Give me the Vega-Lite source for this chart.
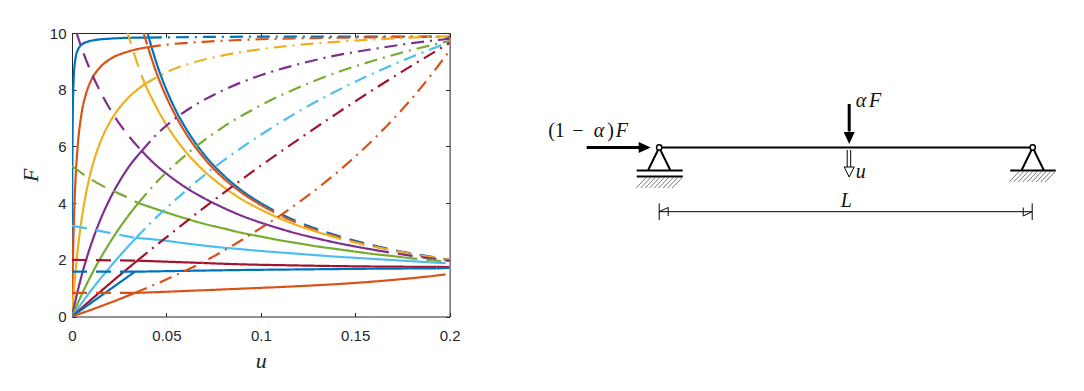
{"$schema":"https://vega.github.io/schema/vega-lite/v6.json","padding":{"left":19,"top":26,"right":0,"bottom":0},"spacing":59.7,"background":"white","config":{"view":{"stroke":null}},
"datasets":{
"curves":[
{"c":"1","s":"solid","p":"1r","u":0,"F":0},{"c":"1","s":"solid","p":"1r","u":0.00005,"F":2.37},{"c":"1","s":"solid","p":"1r","u":0.0001,"F":3.83},{"c":"1","s":"solid","p":"1r","u":0.0002,"F":5.52},{"c":"1","s":"solid","p":"1r","u":0.0004,"F":7.08},{"c":"1","s":"solid","p":"1r","u":0.0008,"F":8.25},{"c":"1","s":"solid","p":"1r","u":0.0015,"F":8.94},{"c":"1","s":"solid","p":"1r","u":0.003,"F":9.39},{"c":"1","s":"solid","p":"1r","u":0.006,"F":9.63},{"c":"1","s":"solid","p":"1r","u":0.012,"F":9.75},{"c":"1","s":"solid","p":"1r","u":0.02,"F":9.8},{"c":"1","s":"solid","p":"1r","u":0.03,"F":9.83},{"c":"1","s":"solid","p":"1r","u":0.0407,"F":9.84},
{"c":"1","s":"dashdot","p":"1e","u":0.0407,"F":9.84},{"c":"1","s":"dashdot","p":"1e","u":0.07,"F":9.86},{"c":"1","s":"dashdot","p":"1e","u":0.1,"F":9.87},{"c":"1","s":"dashdot","p":"1e","u":0.15,"F":9.87},{"c":"1","s":"dashdot","p":"1e","u":0.2,"F":9.87},
{"c":"1","s":"dashed","p":"1a","u":0.039,"F":10.26},{"c":"1","s":"dashed","p":"1a","u":0.0407,"F":9.83},
{"c":"1","s":"solid","p":"1d","u":0.0407,"F":9.83},{"c":"1","s":"solid","p":"1d","u":0.045,"F":8.89},{"c":"1","s":"solid","p":"1d","u":0.05,"F":8},{"c":"1","s":"solid","p":"1d","u":0.055,"F":7.27},{"c":"1","s":"solid","p":"1d","u":0.06,"F":6.67},{"c":"1","s":"solid","p":"1d","u":0.07,"F":5.71},{"c":"1","s":"solid","p":"1d","u":0.08,"F":5},{"c":"1","s":"solid","p":"1d","u":0.09,"F":4.44},{"c":"1","s":"solid","p":"1d","u":0.1,"F":4},
{"c":"1","s":"dashed","p":"1b","u":0.1,"F":4},{"c":"1","s":"dashed","p":"1b","u":0.11,"F":3.64},{"c":"1","s":"dashed","p":"1b","u":0.12,"F":3.33},{"c":"1","s":"dashed","p":"1b","u":0.13,"F":3.08},{"c":"1","s":"dashed","p":"1b","u":0.14,"F":2.86},{"c":"1","s":"dashed","p":"1b","u":0.15,"F":2.67},{"c":"1","s":"dashed","p":"1b","u":0.16,"F":2.5},{"c":"1","s":"dashed","p":"1b","u":0.17,"F":2.35},{"c":"1","s":"dashed","p":"1b","u":0.18,"F":2.22},{"c":"1","s":"dashed","p":"1b","u":0.19,"F":2.11},{"c":"1","s":"dashed","p":"1b","u":0.2,"F":2},

{"c":"2","s":"solid","p":"2r","u":0,"F":0},{"c":"2","s":"solid","p":"2r","u":0.0003,"F":1.3},{"c":"2","s":"solid","p":"2r","u":0.0006,"F":2.31},{"c":"2","s":"solid","p":"2r","u":0.001,"F":3.33},{"c":"2","s":"solid","p":"2r","u":0.0017,"F":4.59},{"c":"2","s":"solid","p":"2r","u":0.003,"F":5.99},{"c":"2","s":"solid","p":"2r","u":0.005,"F":7.13},{"c":"2","s":"solid","p":"2r","u":0.0075,"F":7.87},{"c":"2","s":"solid","p":"2r","u":0.01,"F":8.31},{"c":"2","s":"solid","p":"2r","u":0.015,"F":8.8},{"c":"2","s":"solid","p":"2r","u":0.02,"F":9.07},{"c":"2","s":"solid","p":"2r","u":0.03,"F":9.35},{"c":"2","s":"solid","p":"2r","u":0.0402,"F":9.5},
{"c":"2","s":"dashdot","p":"2e","u":0.0402,"F":9.5},{"c":"2","s":"dashdot","p":"2e","u":0.05,"F":9.59},{"c":"2","s":"dashdot","p":"2e","u":0.07,"F":9.69},{"c":"2","s":"dashdot","p":"2e","u":0.1,"F":9.78},{"c":"2","s":"dashdot","p":"2e","u":0.15,"F":9.84},{"c":"2","s":"dashdot","p":"2e","u":0.2,"F":9.87},
{"c":"2","s":"dashed","p":"2a","u":0.0375,"F":10.1},{"c":"2","s":"dashed","p":"2a","u":0.0402,"F":9.5},
{"c":"2","s":"solid","p":"2d","u":0.0402,"F":9.5},{"c":"2","s":"solid","p":"2d","u":0.045,"F":8.55},{"c":"2","s":"solid","p":"2d","u":0.05,"F":7.74},{"c":"2","s":"solid","p":"2d","u":0.055,"F":7.07},{"c":"2","s":"solid","p":"2d","u":0.06,"F":6.49},{"c":"2","s":"solid","p":"2d","u":0.07,"F":5.58},{"c":"2","s":"solid","p":"2d","u":0.08,"F":4.89},{"c":"2","s":"solid","p":"2d","u":0.09,"F":4.36},{"c":"2","s":"solid","p":"2d","u":0.1,"F":3.93},
{"c":"2","s":"dashed","p":"2b","u":0.1,"F":3.93},{"c":"2","s":"dashed","p":"2b","u":0.11,"F":3.58},{"c":"2","s":"dashed","p":"2b","u":0.12,"F":3.28},{"c":"2","s":"dashed","p":"2b","u":0.13,"F":3.03},{"c":"2","s":"dashed","p":"2b","u":0.14,"F":2.82},{"c":"2","s":"dashed","p":"2b","u":0.15,"F":2.63},{"c":"2","s":"dashed","p":"2b","u":0.16,"F":2.47},{"c":"2","s":"dashed","p":"2b","u":0.17,"F":2.33},{"c":"2","s":"dashed","p":"2b","u":0.18,"F":2.2},{"c":"2","s":"dashed","p":"2b","u":0.19,"F":2.09},{"c":"2","s":"dashed","p":"2b","u":0.2,"F":1.98},

{"c":"3","s":"solid","p":"3r","u":0,"F":0},{"c":"3","s":"solid","p":"3r","u":0.001,"F":0.915},{"c":"3","s":"solid","p":"3r","u":0.002,"F":1.68},{"c":"3","s":"solid","p":"3r","u":0.004,"F":2.9},{"c":"3","s":"solid","p":"3r","u":0.006,"F":3.81},{"c":"3","s":"solid","p":"3r","u":0.009,"F":4.83},{"c":"3","s":"solid","p":"3r","u":0.012,"F":5.58},{"c":"3","s":"solid","p":"3r","u":0.016,"F":6.31},{"c":"3","s":"solid","p":"3r","u":0.02,"F":6.85},{"c":"3","s":"solid","p":"3r","u":0.025,"F":7.35},{"c":"3","s":"solid","p":"3r","u":0.03,"F":7.73},{"c":"3","s":"solid","p":"3r","u":0.0386,"F":8.2},
{"c":"3","s":"dashdot","p":"3e","u":0.0386,"F":8.2},{"c":"3","s":"dashdot","p":"3e","u":0.05,"F":8.62},{"c":"3","s":"dashdot","p":"3e","u":0.06,"F":8.87},{"c":"3","s":"dashdot","p":"3e","u":0.08,"F":9.21},{"c":"3","s":"dashdot","p":"3e","u":0.1,"F":9.43},{"c":"3","s":"dashdot","p":"3e","u":0.12,"F":9.58},{"c":"3","s":"dashdot","p":"3e","u":0.14,"F":9.69},{"c":"3","s":"dashdot","p":"3e","u":0.16,"F":9.77},{"c":"3","s":"dashdot","p":"3e","u":0.18,"F":9.84},{"c":"3","s":"dashdot","p":"3e","u":0.2,"F":9.89},
{"c":"3","s":"dashed","p":"3a","u":0.029,"F":10.13},{"c":"3","s":"dashed","p":"3a","u":0.033,"F":9.25},{"c":"3","s":"dashed","p":"3a","u":0.0386,"F":8.2},
{"c":"3","s":"solid","p":"3d","u":0.0386,"F":8.2},{"c":"3","s":"solid","p":"3d","u":0.045,"F":7.34},{"c":"3","s":"solid","p":"3d","u":0.05,"F":6.76},{"c":"3","s":"solid","p":"3d","u":0.06,"F":5.83},{"c":"3","s":"solid","p":"3d","u":0.07,"F":5.13},{"c":"3","s":"solid","p":"3d","u":0.08,"F":4.58},{"c":"3","s":"solid","p":"3d","u":0.09,"F":4.13},{"c":"3","s":"solid","p":"3d","u":0.1,"F":3.77},{"c":"3","s":"solid","p":"3d","u":0.11,"F":3.46},{"c":"3","s":"solid","p":"3d","u":0.12,"F":3.2},{"c":"3","s":"solid","p":"3d","u":0.13,"F":2.98},{"c":"3","s":"solid","p":"3d","u":0.135,"F":2.88},
{"c":"3","s":"dashed","p":"3b","u":0.135,"F":2.88},{"c":"3","s":"dashed","p":"3b","u":0.14,"F":2.78},{"c":"3","s":"dashed","p":"3b","u":0.15,"F":2.61},{"c":"3","s":"dashed","p":"3b","u":0.16,"F":2.46},{"c":"3","s":"dashed","p":"3b","u":0.17,"F":2.33},{"c":"3","s":"dashed","p":"3b","u":0.18,"F":2.2},{"c":"3","s":"dashed","p":"3b","u":0.19,"F":2.1},{"c":"3","s":"dashed","p":"3b","u":0.2,"F":2},

{"c":"4","s":"solid","p":"4r","u":0,"F":0},{"c":"4","s":"solid","p":"4r","u":0.002,"F":0.61},{"c":"4","s":"solid","p":"4r","u":0.004,"F":1.16},{"c":"4","s":"solid","p":"4r","u":0.007,"F":1.89},{"c":"4","s":"solid","p":"4r","u":0.01,"F":2.52},{"c":"4","s":"solid","p":"4r","u":0.015,"F":3.41},{"c":"4","s":"solid","p":"4r","u":0.02,"F":4.14},{"c":"4","s":"solid","p":"4r","u":0.025,"F":4.75},{"c":"4","s":"solid","p":"4r","u":0.03,"F":5.27},{"c":"4","s":"solid","p":"4r","u":0.0369,"F":5.84},
{"c":"4","s":"dashdot","p":"4e","u":0.0369,"F":5.84},{"c":"4","s":"dashdot","p":"4e","u":0.045,"F":6.43},{"c":"4","s":"dashdot","p":"4e","u":0.055,"F":7},{"c":"4","s":"dashdot","p":"4e","u":0.065,"F":7.45},{"c":"4","s":"dashdot","p":"4e","u":0.08,"F":7.98},{"c":"4","s":"dashdot","p":"4e","u":0.1,"F":8.51},{"c":"4","s":"dashdot","p":"4e","u":0.12,"F":8.9},{"c":"4","s":"dashdot","p":"4e","u":0.14,"F":9.21},{"c":"4","s":"dashdot","p":"4e","u":0.16,"F":9.44},{"c":"4","s":"dashdot","p":"4e","u":0.18,"F":9.64},{"c":"4","s":"dashdot","p":"4e","u":0.2,"F":9.8},
{"c":"4","s":"dashed","p":"4a","u":0.002,"F":10.09},{"c":"4","s":"dashed","p":"4a","u":0.005,"F":9.49},{"c":"4","s":"dashed","p":"4a","u":0.01,"F":8.64},{"c":"4","s":"dashed","p":"4a","u":0.015,"F":7.93},{"c":"4","s":"dashed","p":"4a","u":0.02,"F":7.33},{"c":"4","s":"dashed","p":"4a","u":0.025,"F":6.81},{"c":"4","s":"dashed","p":"4a","u":0.03,"F":6.37},{"c":"4","s":"dashed","p":"4a","u":0.0369,"F":5.84},
{"c":"4","s":"solid","p":"4d","u":0.0369,"F":5.84},{"c":"4","s":"solid","p":"4d","u":0.045,"F":5.31},{"c":"4","s":"solid","p":"4d","u":0.05,"F":5.04},{"c":"4","s":"solid","p":"4d","u":0.06,"F":4.56},{"c":"4","s":"solid","p":"4d","u":0.07,"F":4.17},{"c":"4","s":"solid","p":"4d","u":0.08,"F":3.84},{"c":"4","s":"solid","p":"4d","u":0.09,"F":3.55},{"c":"4","s":"solid","p":"4d","u":0.1,"F":3.31},{"c":"4","s":"solid","p":"4d","u":0.11,"F":3.1},{"c":"4","s":"solid","p":"4d","u":0.12,"F":2.91},{"c":"4","s":"solid","p":"4d","u":0.13,"F":2.75},{"c":"4","s":"solid","p":"4d","u":0.14,"F":2.6},{"c":"4","s":"solid","p":"4d","u":0.15,"F":2.47},{"c":"4","s":"solid","p":"4d","u":0.16,"F":2.35},
{"c":"4","s":"dashed","p":"4b","u":0.16,"F":2.35},{"c":"4","s":"dashed","p":"4b","u":0.17,"F":2.24},{"c":"4","s":"dashed","p":"4b","u":0.18,"F":2.14},{"c":"4","s":"dashed","p":"4b","u":0.19,"F":2.05},{"c":"4","s":"dashed","p":"4b","u":0.2,"F":1.96},

{"c":"5","s":"solid","p":"5r","u":0,"F":0},{"c":"5","s":"solid","p":"5r","u":0.004,"F":0.61},{"c":"5","s":"solid","p":"5r","u":0.008,"F":1.17},{"c":"5","s":"solid","p":"5r","u":0.012,"F":1.69},{"c":"5","s":"solid","p":"5r","u":0.016,"F":2.16},{"c":"5","s":"solid","p":"5r","u":0.02,"F":2.6},{"c":"5","s":"solid","p":"5r","u":0.025,"F":3.11},{"c":"5","s":"solid","p":"5r","u":0.03,"F":3.57},{"c":"5","s":"solid","p":"5r","u":0.0351,"F":4},
{"c":"5","s":"dashdot","p":"5e","u":0.0351,"F":4},{"c":"5","s":"dashdot","p":"5e","u":0.045,"F":4.75},{"c":"5","s":"dashdot","p":"5e","u":0.055,"F":5.39},{"c":"5","s":"dashdot","p":"5e","u":0.065,"F":5.96},{"c":"5","s":"dashdot","p":"5e","u":0.08,"F":6.68},{"c":"5","s":"dashdot","p":"5e","u":0.1,"F":7.45},{"c":"5","s":"dashdot","p":"5e","u":0.12,"F":8.08},{"c":"5","s":"dashdot","p":"5e","u":0.14,"F":8.6},{"c":"5","s":"dashdot","p":"5e","u":0.16,"F":9.03},{"c":"5","s":"dashdot","p":"5e","u":0.18,"F":9.4},{"c":"5","s":"dashdot","p":"5e","u":0.2,"F":9.72},
{"c":"5","s":"dashed","p":"5a","u":0,"F":5.3},{"c":"5","s":"dashed","p":"5a","u":0.01,"F":4.84},{"c":"5","s":"dashed","p":"5a","u":0.02,"F":4.48},{"c":"5","s":"dashed","p":"5a","u":0.03,"F":4.18},{"c":"5","s":"dashed","p":"5a","u":0.0351,"F":4},
{"c":"5","s":"solid","p":"5d","u":0.0351,"F":4},{"c":"5","s":"solid","p":"5d","u":0.045,"F":3.78},{"c":"5","s":"solid","p":"5d","u":0.05,"F":3.67},{"c":"5","s":"solid","p":"5d","u":0.06,"F":3.46},{"c":"5","s":"solid","p":"5d","u":0.07,"F":3.27},{"c":"5","s":"solid","p":"5d","u":0.08,"F":3.11},{"c":"5","s":"solid","p":"5d","u":0.09,"F":2.95},{"c":"5","s":"solid","p":"5d","u":0.1,"F":2.82},{"c":"5","s":"solid","p":"5d","u":0.11,"F":2.69},{"c":"5","s":"solid","p":"5d","u":0.12,"F":2.58},{"c":"5","s":"solid","p":"5d","u":0.13,"F":2.47},{"c":"5","s":"solid","p":"5d","u":0.14,"F":2.38},{"c":"5","s":"solid","p":"5d","u":0.15,"F":2.29},{"c":"5","s":"solid","p":"5d","u":0.16,"F":2.2},{"c":"5","s":"solid","p":"5d","u":0.17,"F":2.13},{"c":"5","s":"solid","p":"5d","u":0.175,"F":2.09},
{"c":"5","s":"dashed","p":"5b","u":0.175,"F":2.09},{"c":"5","s":"dashed","p":"5b","u":0.18,"F":2.05},{"c":"5","s":"dashed","p":"5b","u":0.19,"F":1.99},{"c":"5","s":"dashed","p":"5b","u":0.2,"F":1.92},

{"c":"6","s":"solid","p":"6r","u":0,"F":0},{"c":"6","s":"solid","p":"6r","u":0.005,"F":0.46},{"c":"6","s":"solid","p":"6r","u":0.01,"F":0.91},{"c":"6","s":"solid","p":"6r","u":0.015,"F":1.33},{"c":"6","s":"solid","p":"6r","u":0.02,"F":1.73},{"c":"6","s":"solid","p":"6r","u":0.025,"F":2.12},{"c":"6","s":"solid","p":"6r","u":0.03,"F":2.49},{"c":"6","s":"solid","p":"6r","u":0.0339,"F":2.77},
{"c":"6","s":"dashdot","p":"6e","u":0.0339,"F":2.77},{"c":"6","s":"dashdot","p":"6e","u":0.04,"F":3.19},{"c":"6","s":"dashdot","p":"6e","u":0.05,"F":3.83},{"c":"6","s":"dashdot","p":"6e","u":0.06,"F":4.42},{"c":"6","s":"dashdot","p":"6e","u":0.07,"F":4.98},{"c":"6","s":"dashdot","p":"6e","u":0.085,"F":5.73},{"c":"6","s":"dashdot","p":"6e","u":0.1,"F":6.41},{"c":"6","s":"dashdot","p":"6e","u":0.12,"F":7.23},{"c":"6","s":"dashdot","p":"6e","u":0.14,"F":7.95},{"c":"6","s":"dashdot","p":"6e","u":0.16,"F":8.59},{"c":"6","s":"dashdot","p":"6e","u":0.18,"F":9.16},{"c":"6","s":"dashdot","p":"6e","u":0.2,"F":9.68},
{"c":"6","s":"dashed","p":"6a","u":0,"F":3.2},{"c":"6","s":"dashed","p":"6a","u":0.01,"F":3.08},{"c":"6","s":"dashed","p":"6a","u":0.02,"F":2.95},{"c":"6","s":"dashed","p":"6a","u":0.03,"F":2.82},{"c":"6","s":"dashed","p":"6a","u":0.0339,"F":2.77},
{"c":"6","s":"solid","p":"6d","u":0.0339,"F":2.77},{"c":"6","s":"solid","p":"6d","u":0.045,"F":2.71},{"c":"6","s":"solid","p":"6d","u":0.06,"F":2.58},{"c":"6","s":"solid","p":"6d","u":0.07,"F":2.5},{"c":"6","s":"solid","p":"6d","u":0.08,"F":2.43},{"c":"6","s":"solid","p":"6d","u":0.09,"F":2.37},{"c":"6","s":"solid","p":"6d","u":0.1,"F":2.31},{"c":"6","s":"solid","p":"6d","u":0.11,"F":2.26},{"c":"6","s":"solid","p":"6d","u":0.12,"F":2.21},{"c":"6","s":"solid","p":"6d","u":0.13,"F":2.16},{"c":"6","s":"solid","p":"6d","u":0.14,"F":2.11},{"c":"6","s":"solid","p":"6d","u":0.15,"F":2.07},{"c":"6","s":"solid","p":"6d","u":0.16,"F":2.03},{"c":"6","s":"solid","p":"6d","u":0.17,"F":1.99},{"c":"6","s":"solid","p":"6d","u":0.18,"F":1.95},{"c":"6","s":"solid","p":"6d","u":0.19,"F":1.91},
{"c":"6","s":"dashed","p":"6b","u":0.19,"F":1.91},{"c":"6","s":"dashed","p":"6b","u":0.2,"F":1.88},

{"c":"7","s":"solid","p":"7r","u":0,"F":0},{"c":"7","s":"solid","p":"7r","u":0.01,"F":0.585},{"c":"7","s":"solid","p":"7r","u":0.02,"F":1.16},{"c":"7","s":"solid","p":"7r","u":0.03,"F":1.72},{"c":"7","s":"solid","p":"7r","u":0.0346,"F":1.97},
{"c":"7","s":"dashdot","p":"7e","u":0.0346,"F":1.97},{"c":"7","s":"dashdot","p":"7e","u":0.045,"F":2.53},{"c":"7","s":"dashdot","p":"7e","u":0.055,"F":3.06},{"c":"7","s":"dashdot","p":"7e","u":0.07,"F":3.84},{"c":"7","s":"dashdot","p":"7e","u":0.085,"F":4.59},{"c":"7","s":"dashdot","p":"7e","u":0.1,"F":5.32},{"c":"7","s":"dashdot","p":"7e","u":0.12,"F":6.25},{"c":"7","s":"dashdot","p":"7e","u":0.14,"F":7.15},{"c":"7","s":"dashdot","p":"7e","u":0.16,"F":8.02},{"c":"7","s":"dashdot","p":"7e","u":0.18,"F":8.85},{"c":"7","s":"dashdot","p":"7e","u":0.2,"F":9.65},
{"c":"7","s":"dashed","p":"7a","u":0,"F":2},{"c":"7","s":"dashed","p":"7a","u":0.0346,"F":1.97},
{"c":"7","s":"solid","p":"7d","u":0.0346,"F":1.97},{"c":"7","s":"solid","p":"7d","u":0.06,"F":1.91},{"c":"7","s":"solid","p":"7d","u":0.09,"F":1.84},{"c":"7","s":"solid","p":"7d","u":0.12,"F":1.8},{"c":"7","s":"solid","p":"7d","u":0.15,"F":1.77},{"c":"7","s":"solid","p":"7d","u":0.193,"F":1.75},
{"c":"7","s":"dashed","p":"7b","u":0.193,"F":1.75},{"c":"7","s":"dashed","p":"7b","u":0.2,"F":1.74},

{"c":"8","s":"solid","p":"8r","u":0,"F":0},{"c":"8","s":"solid","p":"8r","u":0.0333,"F":1.58},
{"c":"8","s":"dashed","p":"8a","u":0,"F":1.58},{"c":"8","s":"dashed","p":"8a","u":0.0333,"F":1.58},
{"c":"8","s":"solid","p":"8d","u":0.0333,"F":1.58},{"c":"8","s":"solid","p":"8d","u":0.06,"F":1.61},{"c":"8","s":"solid","p":"8d","u":0.09,"F":1.64},{"c":"8","s":"solid","p":"8d","u":0.12,"F":1.66},{"c":"8","s":"solid","p":"8d","u":0.15,"F":1.68},{"c":"8","s":"solid","p":"8d","u":0.193,"F":1.7},
{"c":"8","s":"dashed","p":"8b","u":0.193,"F":1.7},{"c":"8","s":"dashed","p":"8b","u":0.2,"F":1.71},

{"c":"9","s":"solid","p":"9r","u":0,"F":0},{"c":"9","s":"solid","p":"9r","u":0.01,"F":0.234},{"c":"9","s":"solid","p":"9r","u":0.02,"F":0.48},{"c":"9","s":"solid","p":"9r","u":0.0333,"F":0.83},
{"c":"9","s":"dashdot","p":"9e","u":0.0333,"F":0.83},{"c":"9","s":"dashdot","p":"9e","u":0.045,"F":1.16},{"c":"9","s":"dashdot","p":"9e","u":0.055,"F":1.46},{"c":"9","s":"dashdot","p":"9e","u":0.07,"F":1.94},{"c":"9","s":"dashdot","p":"9e","u":0.085,"F":2.5},{"c":"9","s":"dashdot","p":"9e","u":0.1,"F":3.12},{"c":"9","s":"dashdot","p":"9e","u":0.11,"F":3.55},{"c":"9","s":"dashdot","p":"9e","u":0.12,"F":4.02},{"c":"9","s":"dashdot","p":"9e","u":0.13,"F":4.52},{"c":"9","s":"dashdot","p":"9e","u":0.14,"F":5.06},{"c":"9","s":"dashdot","p":"9e","u":0.15,"F":5.64},{"c":"9","s":"dashdot","p":"9e","u":0.16,"F":6.27},{"c":"9","s":"dashdot","p":"9e","u":0.17,"F":6.95},{"c":"9","s":"dashdot","p":"9e","u":0.18,"F":7.69},{"c":"9","s":"dashdot","p":"9e","u":0.19,"F":8.5},{"c":"9","s":"dashdot","p":"9e","u":0.2,"F":9.38},
{"c":"9","s":"dashed","p":"9a","u":0,"F":0.83},{"c":"9","s":"dashed","p":"9a","u":0.0333,"F":0.83},
{"c":"9","s":"solid","p":"9d","u":0.0333,"F":0.83},{"c":"9","s":"solid","p":"9d","u":0.06,"F":0.9},{"c":"9","s":"solid","p":"9d","u":0.089,"F":0.98},{"c":"9","s":"solid","p":"9d","u":0.12,"F":1.07},{"c":"9","s":"solid","p":"9d","u":0.149,"F":1.18},{"c":"9","s":"solid","p":"9d","u":0.175,"F":1.32},{"c":"9","s":"solid","p":"9d","u":0.19,"F":1.42},
{"c":"9","s":"dashed","p":"9b","u":0.19,"F":1.42},{"c":"9","s":"dashed","p":"9b","u":0.2,"F":1.5}
],
"medium":[
{"p":"beam","x":0,"y":0},{"p":"beam","x":373.5,"y":0},
{"p":"tl","x":-11,"y":-22.5},{"p":"tl","x":0,"y":0},{"p":"tl","x":11,"y":-22.5},
{"p":"tr","x":362.5,"y":-22.5},{"p":"tr","x":373.5,"y":0},{"p":"tr","x":384.5,"y":-22.5},
{"p":"gl","x":-22.5,"y":-23},{"p":"gl","x":23.5,"y":-23},
{"p":"gl2","x":-22.5,"y":-29},{"p":"gl2","x":23.5,"y":-29},
{"p":"gr","x":351,"y":-23},{"p":"gr","x":396.5,"y":-23}
],
"heavy":[
{"p":"push","x":-72.5,"y":0},{"p":"push","x":-20,"y":0},
{"p":"down","x":190,"y":43.5},{"p":"down","x":190,"y":16}
],
"heads":[{"x":-14.5,"y":0,"k":"right"},{"x":190,"y":9.5,"k":"down"}],
"hollow":[{"x":190,"y":-24.5}],
"thin":[
{"p":"s1","x":188,"y":-2.5},{"p":"s1","x":188,"y":-20},{"p":"s2","x":191.5,"y":-2.5},{"p":"s2","x":191.5,"y":-20},
{"p":"dim","x":0,"y":-64.2},{"p":"dim","x":373,"y":-64.2},
{"p":"t1","x":0,"y":-55.8},{"p":"t1","x":0,"y":-72.5},{"p":"t2","x":373,"y":-55.8},{"p":"t2","x":373,"y":-72.5},
{"p":"a1","x":9,"y":-60},{"p":"a1","x":0,"y":-64.2},{"p":"a1","x":9,"y":-68.5},
{"p":"a2","x":364,"y":-60},{"p":"a2","x":373,"y":-64.2},{"p":"a2","x":364,"y":-68.5}
],
"hatch":[
{"p":"l1","x":-23,"y":-40.5},{"p":"l1","x":-13,"y":-30},{"p":"l2","x":-18.5,"y":-40.5},{"p":"l2","x":-8.5,"y":-30},{"p":"l3","x":-14,"y":-40.5},{"p":"l3","x":-4,"y":-30},{"p":"l4","x":-9.5,"y":-40.5},{"p":"l4","x":0.5,"y":-30},{"p":"l5","x":-5,"y":-40.5},{"p":"l5","x":5,"y":-30},{"p":"l6","x":-0.5,"y":-40.5},{"p":"l6","x":9.5,"y":-30},{"p":"l7","x":4,"y":-40.5},{"p":"l7","x":14,"y":-30},{"p":"l8","x":8.5,"y":-40.5},{"p":"l8","x":18.5,"y":-30},{"p":"l9","x":13,"y":-40.5},{"p":"l9","x":23,"y":-30},
{"p":"r1","x":350,"y":-34.5},{"p":"r1","x":360,"y":-24},{"p":"r2","x":354.5,"y":-34.5},{"p":"r2","x":364.5,"y":-24},{"p":"r3","x":359,"y":-34.5},{"p":"r3","x":369,"y":-24},{"p":"r4","x":363.5,"y":-34.5},{"p":"r4","x":373.5,"y":-24},{"p":"r5","x":368,"y":-34.5},{"p":"r5","x":378,"y":-24},{"p":"r6","x":372.5,"y":-34.5},{"p":"r6","x":382.5,"y":-24},{"p":"r7","x":377,"y":-34.5},{"p":"r7","x":387,"y":-24},{"p":"r8","x":381.5,"y":-34.5},{"p":"r8","x":391.5,"y":-24},{"p":"r9","x":386,"y":-34.5},{"p":"r9","x":396,"y":-24}
],
"pins":[{"x":0,"y":0},{"x":373.5,"y":0}],
"upright":[{"x":-111,"y":16.8,"t":"(1"},{"x":-87,"y":16.8,"t":"−"},{"x":-52,"y":16.8,"t":")"}],
"italic":[{"x":-65.5,"y":16.8,"t":"α"},{"x":-43.5,"y":16.8,"t":"F"},{"x":196.5,"y":46.8,"t":"α"},{"x":209.8,"y":46.8,"t":"F"},{"x":196.5,"y":-24.2,"t":"u"},{"x":181.5,"y":-53.2,"t":"L"}]
},
"hconcat":[
{"width":377.6,"height":283.5,"layer":[
{"data":{"name":"curves"},"mark":{"type":"line","clip":true,"strokeWidth":2.2,"interpolate":"monotone"},
"encoding":{
"x":{"field":"u","type":"quantitative","scale":{"domain":[0,0.2],"nice":false,"zero":false},
"axis":{"orient":"bottom","values":[0,0.05,0.1,0.15,0.2],"format":"~g","grid":false,"tickSize":-4,"tickColor":"#262626","domainColor":"#262626","labelColor":"#262626","labelFont":"Liberation Sans","labelFontSize":15,"labelPadding":16,"labelFlush":false,"labelOverlap":false,"title":"u","titleFont":"Liberation Serif","titleFontStyle":"italic","titleFontWeight":"normal","titleFontSize":22,"titleColor":"#262626","titlePadding":7}},
"y":{"field":"F","type":"quantitative","scale":{"domain":[0,10],"nice":false,"zero":false},
"axis":{"orient":"left","values":[0,2,4,6,8,10],"grid":false,"tickSize":-4,"tickColor":"#262626","domainColor":"#262626","labelColor":"#262626","labelFont":"Liberation Sans","labelFontSize":15,"labelPadding":10,"labelFlush":false,"labelOverlap":false,"title":"F","titleFont":"Liberation Serif","titleFontStyle":"italic","titleFontWeight":"normal","titleFontSize":22,"titleColor":"#262626","titlePadding":7}},
"color":{"field":"c","type":"nominal","legend":null,"scale":{"domain":["1","2","3","4","5","6","7","8","9"],"range":["#0072BD","#D95319","#EDB120","#7E2F8E","#77AC30","#4DBEEE","#A2142F","#0072BD","#D95319"]}},
"strokeDash":{"field":"s","type":"nominal","legend":null,"scale":{"domain":["solid","dashed","dashdot"],"range":[[1,0],[15,9],[13,6,2,6]]}},
"detail":{"field":"p"}
}},
{"data":{"values":[{"u":0,"F":0}]},"mark":{"type":"point","opacity":0},
"encoding":{
"x":{"field":"u","type":"quantitative","scale":{"domain":[0,0.2],"nice":false,"zero":false},"axis":{"orient":"top","values":[0,0.05,0.1,0.15,0.2],"labels":false,"grid":false,"tickSize":-4,"tickColor":"#262626","domainColor":"#262626","title":null}},
"y":{"field":"F","type":"quantitative","scale":{"domain":[0,10],"nice":false,"zero":false},"axis":{"orient":"right","values":[0,2,4,6,8,10],"labels":false,"grid":false,"tickSize":-4,"tickColor":"#262626","domainColor":"#262626","title":null}}
}}
],"resolve":{"axis":{"x":"independent","y":"independent"}}},
{"width":564,"height":283.5,
"encoding":{
"x":{"field":"x","type":"quantitative","axis":null,"scale":{"domain":[-138.5,425.5],"nice":false,"zero":false}},
"y":{"field":"y","type":"quantitative","axis":null,"scale":{"domain":[-169,114.5],"nice":false,"zero":false}}
},
"layer":[
{"data":{"name":"hatch"},"mark":{"type":"line","stroke":"#222222","strokeWidth":0.6},"encoding":{"detail":{"field":"p"}}},
{"data":{"name":"thin"},"mark":{"type":"line","stroke":"black","strokeWidth":1},"encoding":{"detail":{"field":"p"}}},
{"data":{"name":"medium"},"mark":{"type":"line","stroke":"black","strokeWidth":2},"encoding":{"detail":{"field":"p"}}},
{"data":{"name":"heavy"},"mark":{"type":"line","stroke":"black","strokeWidth":3},"encoding":{"detail":{"field":"p"}}},
{"data":{"name":"heads"},"transform":[{"filter":"datum.k==='right'"}],"mark":{"type":"point","shape":"M-1,-0.92L1,0L-1,0.92Z","filled":true,"fill":"black","stroke":null,"size":144,"opacity":1}},
{"data":{"name":"heads"},"transform":[{"filter":"datum.k==='down'"}],"mark":{"type":"point","shape":"M-0.92,-1L0.92,-1L0,1Z","filled":true,"fill":"black","stroke":null,"size":144,"opacity":1}},
{"data":{"name":"hollow"},"mark":{"type":"point","shape":"M-1,-1L1,-1L0,1Z","filled":false,"fill":"white","stroke":"black","strokeWidth":1,"size":100,"opacity":1}},
{"data":{"name":"pins"},"mark":{"type":"point","shape":"circle","filled":false,"fill":"white","stroke":"black","strokeWidth":1.5,"size":28,"opacity":1}},
{"data":{"name":"upright"},"mark":{"type":"text","font":"Liberation Serif","fontSize":20,"align":"left","baseline":"middle","color":"#111111"},"encoding":{"text":{"field":"t"}}},
{"data":{"name":"italic"},"mark":{"type":"text","font":"Liberation Serif","fontStyle":"italic","fontSize":20,"align":"left","baseline":"middle","color":"#111111"},"encoding":{"text":{"field":"t"}}}
]}
]}
